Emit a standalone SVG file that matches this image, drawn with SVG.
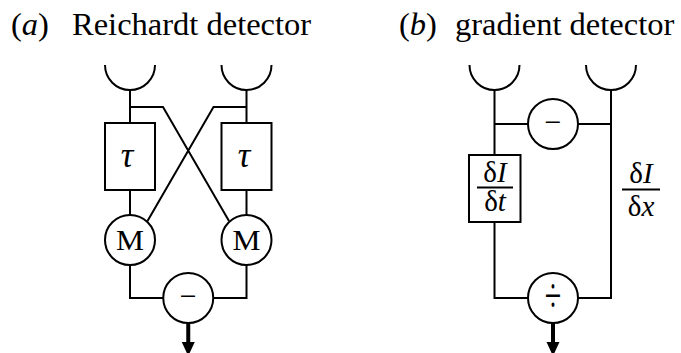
<svg xmlns="http://www.w3.org/2000/svg" width="681" height="353" viewBox="0 0 681 353">
<style>
.ln{fill:none;stroke:#000;stroke-width:2}
.nd{fill:#fff;stroke:#000;stroke-width:2}
.tx{font-family:"Liberation Serif","Times New Roman",serif;fill:#000}
.it{font-style:italic}
.ar{fill:none;stroke:#000;stroke-width:4}
</style>
<rect width="681" height="353" fill="#fff"/>
<g id="titles" class="tx" font-size="32.5">
<text id="title-a" y="35"><tspan x="11">(</tspan><tspan class="it">a</tspan><tspan>)</tspan><tspan x="72">Reichardt detector</tspan></text>
<text id="title-b" y="35"><tspan x="399">(</tspan><tspan class="it">b</tspan><tspan>)</tspan><tspan x="455">gradient detector</tspan></text>
</g>
<g id="connectors">
<path class="ln" d="M130,90V123M130,107H163L229,221M246.5,90V123M246.5,107H213.5L147.5,221M130,190V215M246.5,190V215M130,265V298H163.25M246.5,265V298H213.25"/>
<path class="ar" d="M188.25,323V345"/>
<polygon points="181.75,342 194.75,342 188.25,356" fill="#000"/>
<path class="ln" d="M494.5,90V155M494.5,124H528M578,124H611M611,90V298H578M494.5,222V298H528"/>
<path class="ar" d="M553,323V345"/>
<polygon points="546.5,342 559.5,342 553,356" fill="#000"/>
</g>
<g id="receptor-a1"><path class="ln" d="M105,65A25,25 0 0 0 155,65"/></g>
<g id="receptor-a2"><path class="ln" d="M221.5,65A25,25 0 0 0 271.5,65"/></g>
<g id="delay-a1"><rect class="nd" x="105" y="123" width="50" height="67"/><text class="tx it" x="127" y="167" font-size="35" text-anchor="middle">τ</text></g>
<g id="delay-a2"><rect class="nd" x="221.5" y="123" width="50" height="67"/><text class="tx it" x="244" y="167" font-size="35" text-anchor="middle">τ</text></g>
<g id="mult-a1"><circle class="nd" cx="130" cy="240" r="25"/><text class="tx" x="130" y="250" font-size="29" text-anchor="middle" textLength="28" lengthAdjust="spacingAndGlyphs">M</text></g>
<g id="mult-a2"><circle class="nd" cx="246.5" cy="240" r="25"/><text class="tx" x="246.5" y="250" font-size="29" text-anchor="middle" textLength="28" lengthAdjust="spacingAndGlyphs">M</text></g>
<g id="sub-a"><circle class="nd" cx="188.25" cy="298" r="25"/><text class="tx" x="188.25" y="306" font-size="30" text-anchor="middle" fill="#333">−</text></g>
<g id="receptor-b1"><path class="ln" d="M469.5,65A25,25 0 0 0 519.5,65"/></g>
<g id="receptor-b2"><path class="ln" d="M586,65A25,25 0 0 0 636,65"/></g>
<g id="sub-b"><circle class="nd" cx="553" cy="124" r="25"/><text class="tx" x="553" y="132" font-size="30" text-anchor="middle" fill="#333">−</text></g>
<g id="dt-b"><rect class="nd" x="469" y="155" width="51.5" height="67"/>
<text class="tx" x="495" y="182" font-size="29" text-anchor="middle">δ<tspan class="it">I</tspan></text>
<line x1="477" y1="187.5" x2="513" y2="187.5" stroke="#000" stroke-width="1.8"/>
<text class="tx" x="495" y="211" font-size="29" text-anchor="middle">δ<tspan class="it">t</tspan></text></g>
<g id="dx-b">
<text class="tx" x="641" y="183" font-size="29" text-anchor="middle">δ<tspan class="it">I</tspan></text>
<line x1="622" y1="189.5" x2="660" y2="189.5" stroke="#000" stroke-width="1.8"/>
<text class="tx" x="641" y="216" font-size="29" text-anchor="middle">δ<tspan class="it">x</tspan></text></g>
<g id="div-b"><circle class="nd" cx="553" cy="298" r="25"/><text class="tx" x="553" y="307" font-size="30" text-anchor="middle" transform="translate(553,298) scale(1,1.6) translate(-553,-298)">÷</text></g>
</svg>
